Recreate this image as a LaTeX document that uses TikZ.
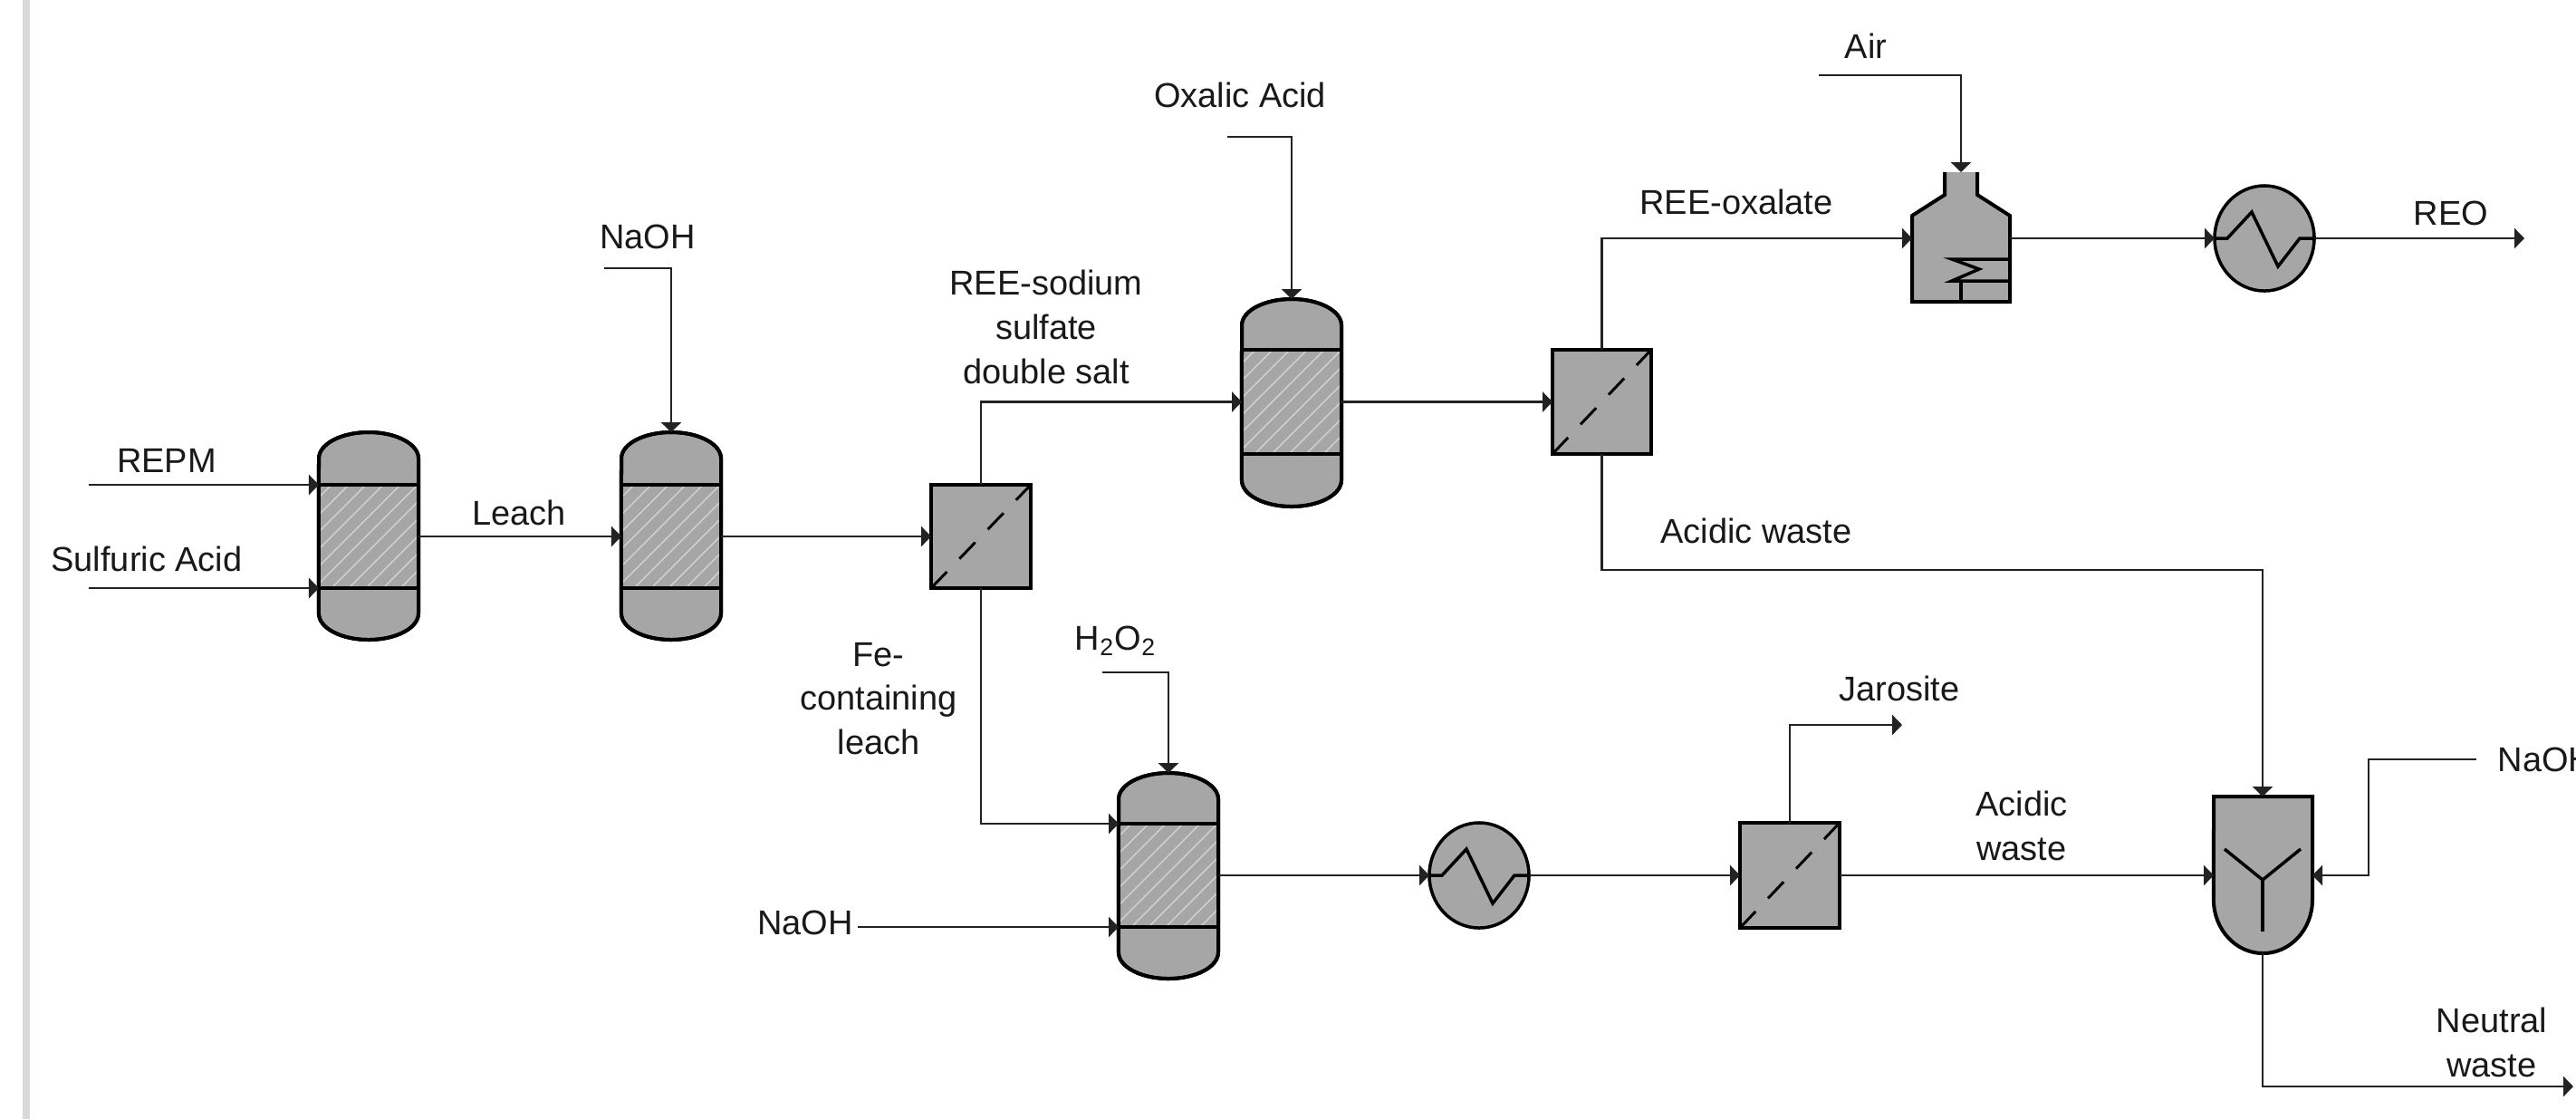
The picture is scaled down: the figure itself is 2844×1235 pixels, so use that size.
\documentclass[tikz,border=0pt]{standalone}
\usepackage{fontspec}
\setmainfont{Liberation Sans}
\usetikzlibrary{arrows.meta,calc}
\definecolor{unitfill}{HTML}{A6A6A6}
\definecolor{hatchcol}{HTML}{D2D2D2}
\definecolor{linecol}{HTML}{222222}
\definecolor{barcol}{HTML}{D9D9D9}
\tikzset{
  unit/.style={draw=black,line width=0.04cm,fill=unitfill,line join=miter},
  innerline/.style={draw=black,line width=0.035cm},
  flow/.style={draw=linecol,line width=0.028cm,-{Triangle[length=0.11cm,width=0.22cm]}},
  lbl/.style={font=\fontsize{10.8pt}{13.9pt}\selectfont,inner sep=0pt,align=center,text=black!90},
  port/.style={inner sep=0pt,minimum size=0pt,outer sep=0pt},
}
% name, cx, top, band1, band2, bottom
\newcommand{\columnunit}[6]{
  \pgfmathsetmacro{\lx}{#2-55}\pgfmathsetmacro{\rx}{#2+55}
  \pgfmathsetmacro{\ts}{#3+29}\pgfmathsetmacro{\bs}{#6-29}
  \path[unit] (\lx,\ts) arc[start angle=180,end angle=0,x radius=.55cm,y radius=.29cm]
     -- (\rx,\bs) arc[start angle=0,end angle=-180,x radius=.55cm,y radius=.29cm] -- cycle;
  \begin{scope}
    \clip (\lx,#4) rectangle (\rx,#5);
    \foreach \k in {-8,...,8}{
      \draw[hatchcol,line width=0.014cm] ({#2+\k*19*1.0-70},{#5+10}) -- ++(140,-140);
    }
  \end{scope}
  \draw[innerline] (\lx,#4) -- (\rx,#4);
  \draw[innerline] (\lx,#5) -- (\rx,#5);
  \path[unit,fill=none] (\lx,\ts) arc[start angle=180,end angle=0,x radius=.55cm,y radius=.29cm]
     -- (\rx,\bs) arc[start angle=0,end angle=-180,x radius=.55cm,y radius=.29cm] -- cycle;
  \pgfmathsetmacro{\my}{(#4+#5)/2}
  \node[port] (#1) at (#2,\my) {};
  \coordinate (#1-top) at (#2,#3);
  \coordinate (#1-ua) at (\lx,#4);
  \coordinate (#1-la) at (\lx,#5);
  \coordinate (#1-out) at (\rx,\my);
}
% name, x1, y1, x2, y2
\newcommand{\filterunit}[5]{
  \path[unit] (#2,#3) rectangle (#4,#5);
  \draw[black,line width=0.03cm,dash pattern=on .25cm off .2cm] (#2,#5) -- (#4,#3);
  \pgfmathsetmacro{\cxx}{(#2+#4)/2}\pgfmathsetmacro{\cyy}{(#3+#5)/2}
  \node[port] (#1) at (\cxx,\cyy) {};
  \coordinate (#1-w) at (#2,\cyy);
  \coordinate (#1-e) at (#4,\cyy);
  \coordinate (#1-n) at (\cxx,#3);
  \coordinate (#1-s) at (\cxx,#5);
}
% name, cx, cy
\newcommand{\heaterunit}[3]{
  \path[unit,line width=0.035cm] (#2,#3) ellipse[x radius=.55cm,y radius=.58cm];
  \draw[innerline,line join=miter] ($(#2,#3)+(-55,0)$) -- ++(14,0) -- ++(27,-29) -- ++(29,60) -- ++(24,-31) -- ++(16,0);
  \node[port] (#1) at (#2,#3) {};
  \coordinate (#1-w) at (#2-55,#3);
  \coordinate (#1-e) at (#2+55,#3);
}
\begin{document}
\begin{tikzpicture}[x=0.01cm,y=-0.01cm]
\fill[white] (0,0) rectangle (2844,1235);
\clip (0,0) rectangle (2844,1235);
\fill[barcol] (25,0) rectangle (33,1235);

% units
\columnunit{cA}{407}{477}{535}{649}{706}
\columnunit{cB}{741}{477}{535}{649}{706}
\columnunit{cC}{1426}{330}{386}{501}{559}
\columnunit{cD}{1290}{853}{909}{1023}{1080}
\filterunit{fA}{1028}{535}{1138}{649}
\filterunit{fB}{1714}{386}{1823}{501}
\filterunit{fC}{1921}{908}{2031}{1024}
\heaterunit{hA}{2500}{263}
\heaterunit{hB}{1633}{966}

% calciner (neck top is open)
\fill[unitfill] (2147,190) -- (2183,190) -- (2183,215) -- (2219,238) -- (2219,333) -- (2111,333) -- (2111,238) -- (2147,215) -- cycle;
\draw[innerline,line width=0.04cm] (2183,190) -- (2183,215) -- (2219,238) -- (2219,333) -- (2111,333) -- (2111,238) -- (2147,215) -- (2147,190);
\draw[innerline] (2219,286) -- (2155,286) -- (2185,297) -- (2155,310) -- (2219,310);
\draw[innerline] (2165,310) -- (2165,333);
\node[port] (calc) at (2165,263) {};
\coordinate (calc-top) at (2165,190);
\coordinate (calc-w) at (2111,263);
\coordinate (calc-e) at (2219,263);

% neutraliser
\path[unit] (2444,879) -- (2553,879) -- (2553,993) arc[start angle=0,end angle=-180,x radius=.545cm,y radius=.59cm] -- cycle;
\draw[innerline] (2456,937) -- (2498,971) -- (2540,937);
\draw[innerline] (2498,971) -- (2498,1028);
\node[port] (neut) at (2498,966) {};
\coordinate (neut-top) at (2498,879);
\coordinate (neut-bot) at (2498,1052);
\coordinate (neut-w) at (2444,966);
\coordinate (neut-e) at (2553,966);

% free ends
\coordinate (repm0) at (98,535);
\coordinate (sulf0) at (98,649);
\coordinate (naohA0) at (667,296);
\coordinate (oxal0) at (1355,151);
\coordinate (air0) at (2008,83);
\coordinate (h2o20) at (1217,742);
\coordinate (naohB0) at (947,1023);
\coordinate (naohC0) at (2734,838);
\coordinate (reo1) at (2787,263);
\coordinate (jar1) at (2100,800);
\coordinate (waste1) at (2841,1199);
\coordinate (acidT) at (2498,629);
\coordinate (cornerNaOH) at (2615,966);

% connectors
\draw[flow] (repm0) -- (cA-ua);
\draw[flow] (sulf0) -- (cA-la);
\draw[flow] (cA-out) -- (cB-ua |- cA-out);
\draw[flow] (naohA0) -| (cB-top);
\draw[flow] (cB-out) -- (fA-w);
\draw[flow] (fA-n) |- (cC-out -| cC-ua);
\draw[flow] (oxal0) -| (cC-top);
\draw[flow] (cC-out) -- (fB-w);
\draw[flow] (fB-n) |- (calc-w);
\draw[flow] (air0) -| (calc-top);
\draw[flow] (calc-e) -- (hA-w);
\draw[flow] (hA-e) -- (reo1);
\draw[flow] (fB-s) |- (acidT) -- (neut-top);
\draw[flow] (fA-s) |- (cD-ua);
\draw[flow] (h2o20) -| (cD-top);
\draw[flow] (naohB0) -- (cD-la);
\draw[flow] (cD-out) -- (hB-w);
\draw[flow] (hB-e) -- (fC-w);
\draw[flow] (fC-n) |- (jar1);
\draw[flow] (fC-e) -- (neut-w);
\draw[flow] (naohC0) -- (naohC0 -| cornerNaOH) -- (cornerNaOH) -- (neut-e);
\draw[flow] (neut-bot) |- (waste1);

% labels
\node[lbl] (tRepm) at (184,508) {REPM};
\node[lbl] (tSulf) at (162,617) {Sulfuric Acid};
\node[lbl] (tLeach) at (573,566) {Leach};
\node[lbl] (tNaA) at (715,261) {NaOH};
\node[lbl] (tOx) at (1369,105) {Oxalic Acid};
\node[lbl] (tAir) at (2060,51) {Air};
\node[lbl] (tOxl) at (1917,223) {REE-oxalate};
\node[lbl] (tReo) at (2706,235) {REO};
\node[lbl] (tSalt) at (1155,361) {REE-sodium\\sulfate\\double salt};
\node[lbl] (tFe) at (970,771) {Fe-\\containing\\leach};
\node[lbl] (tAcA) at (1939,586) {Acidic waste};
\node[lbl] (tH) at (1232,707) {H\textsubscript{2}O\textsubscript{2}};
\node[lbl] (tJar) at (2097,760) {Jarosite};
\node[lbl] (tAcB) at (2232,911) {Acidic\\waste};
\node[lbl] (tNaB) at (889,1018) {NaOH};
\node[lbl,anchor=west] (tNaC) at (2757,838) {NaOH};
\node[lbl] (tNeut) at (2751,1150) {Neutral\\waste};
\end{tikzpicture}
\end{document}
